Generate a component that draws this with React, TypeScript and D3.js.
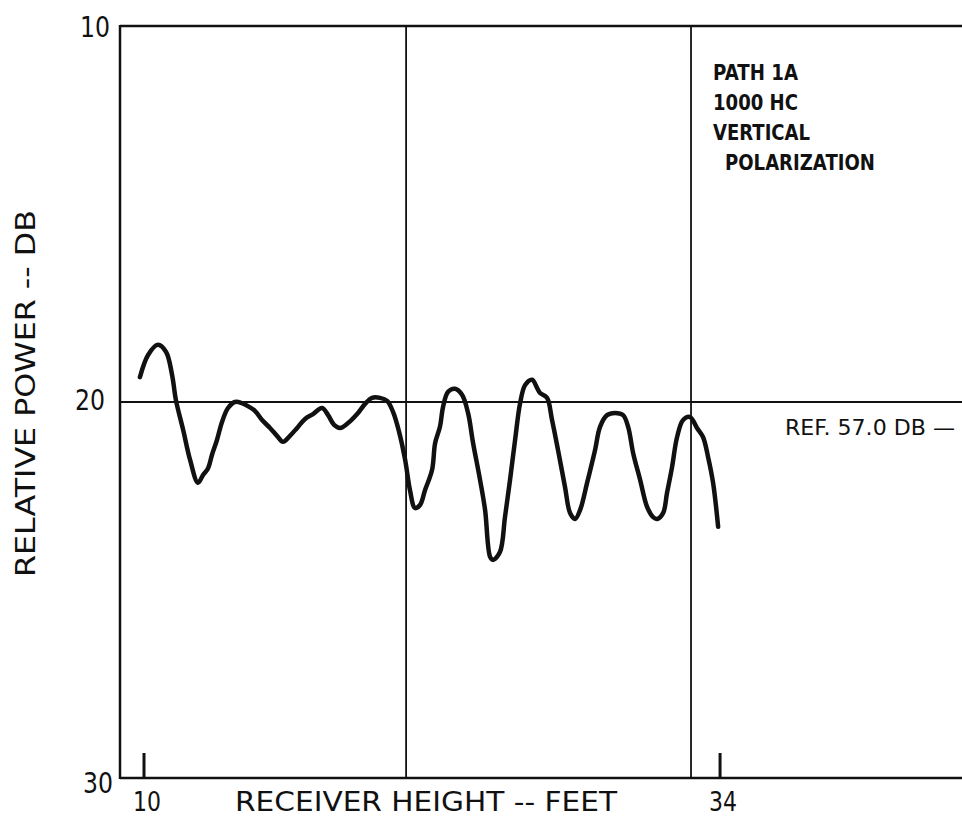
import React from "react";
import * as d3 from "d3";

const heightFt = [9.83,10.17,10.58,10.92,11.17,11.33,11.63,11.92,12.25,12.46,12.67,12.83,13.04,13.25,13.5,13.79,14.08,14.33,14.63,14.92,15.25,15.54,15.79,16.08,16.38,16.71,17.04,17.42,17.67,17.92,18.17,18.5,18.88,19.21,19.5,19.83,20.13,20.38,20.63,20.88,21.08,21.29,21.5,21.71,22.0,22.13,22.33,22.46,22.67,22.96,23.25,23.5,23.71,24.0,24.21,24.42,24.54,24.83,25.04,25.25,25.46,25.67,25.88,26.17,26.38,26.5,26.79,27.0,27.25,27.54,27.75,27.96,28.17,28.46,28.79,29.0,29.29,29.63,29.96,30.17,30.38,30.67,30.96,31.21,31.38,31.63,31.79,32.0,32.21,32.46,32.75,33.04,33.29,33.5,33.71,33.92];
const powerDb = [19.34,18.75,18.48,18.67,19.28,19.95,20.74,21.54,22.15,21.94,21.76,21.41,21.01,20.53,20.16,20.0,20.03,20.11,20.24,20.48,20.69,20.9,21.06,20.9,20.69,20.45,20.32,20.16,20.35,20.61,20.69,20.56,20.32,20.05,19.89,19.89,19.97,20.27,20.8,21.54,22.34,22.82,22.74,22.34,21.81,21.09,20.66,20.13,19.73,19.65,19.81,20.29,21.09,22.07,22.87,24.12,24.2,23.99,23.06,22.07,21.01,20.03,19.55,19.41,19.63,19.76,19.89,20.48,21.28,22.26,22.95,23.11,22.87,22.15,21.28,20.66,20.35,20.29,20.35,20.66,21.36,22.07,22.79,23.06,23.11,22.95,22.42,21.73,20.93,20.48,20.4,20.69,20.93,21.46,22.15,23.32];

const yTicks = [10, 20, 30];
const xTicks = [10, 34];
const xGrid = [20.92, 32.79];
const yGrid = [20];
const noteLines = ["PATH 1A", "1000 HC", "VERTICAL", " POLARIZATION"];
const refLabel = "REF. 57.0 DB \u2014";
const xTitle = "RECEIVER HEIGHT -- FEET";
const yTitle = "RELATIVE POWER -- DB";

export default function App() {
  const W = 962, H = 817;
  const x = d3.scaleLinear().domain([9, 44.08]).range([120, 962]);
  const y = d3.scaleLinear().domain([10, 30]).range([26, 778]);
  const pts: [number, number][] = heightFt.map((h, i) => [h, powerDb[i]]);
  const line = d3.line<[number, number]>()
    .x(d => x(d[0]))
    .y(d => y(d[1]))
    .curve(d3.curveCatmullRom.alpha(0.5));
  const font = "'DejaVu Sans', sans-serif";
  const x0 = x(9), x1 = x(44.08);
  const yLabelPos: Record<number, [number, number]> = { 10: [110, 37], 20: [105, 410], 30: [113, 793] };
  return (
    <svg width={W} height={H} style={{ position: "absolute", left: 0, top: 0, background: "#fff" }}>
      <rect x={0} y={0} width={W} height={H} fill="#fff" />
      {/* frame */}
      <line x1={x0} x2={x1} y1={y(10)} y2={y(10)} stroke="#111" strokeWidth={2.5} />
      <line x1={x0} x2={x1} y1={y(30)} y2={y(30)} stroke="#111" strokeWidth={2.5} />
      <line x1={x0} x2={x0} y1={y(10) - 1} y2={y(30) + 1} stroke="#111" strokeWidth={2.5} />
      {xGrid.map(g => (
        <line key={g} x1={x(g)} x2={x(g)} y1={y(10)} y2={y(30)} stroke="#111" strokeWidth={1.8} />
      ))}
      {yGrid.map(g => (
        <line key={g} x1={x0} x2={x1} y1={y(g)} y2={y(g)} stroke="#111" strokeWidth={1.8} />
      ))}
      {xTicks.map(t => (
        <line key={t} x1={x(t)} x2={x(t)} y1={y(30)} y2={y(30) - 25} stroke="#111" strokeWidth={3} />
      ))}
      {/* data */}
      <path d={line(pts) || ""} fill="none" stroke="#111" strokeWidth={4.5} strokeLinejoin="round" strokeLinecap="round" />
      {/* y tick labels */}
      {yTicks.map(t => (
        <text key={t} x={yLabelPos[t][0]} y={yLabelPos[t][1]} textAnchor="end" fontFamily={font} fontSize={29}
          textLength={30} lengthAdjust="spacingAndGlyphs" fill="#111">{t}</text>
      ))}
      {/* x tick labels */}
      {xTicks.map(t => (
        <text key={t} x={x(t) + 3} y={811} textAnchor="middle" fontFamily={font} fontSize={26}
          textLength={28} lengthAdjust="spacingAndGlyphs" fill="#111">{t}</text>
      ))}
      <text x={235} y={811} fontFamily={font} fontSize={27} textLength={382} lengthAdjust="spacingAndGlyphs" fill="#111">{xTitle}</text>
      <text transform="translate(35,577) rotate(-90)" x={0} y={0} fontFamily={font} fontSize={27}
        textLength={367} lengthAdjust="spacingAndGlyphs" fill="#111">{yTitle}</text>
      {noteLines.map((l, i) => (
        <text key={i} x={i === 3 ? 725 : 713} y={80 + i * 30} fontFamily={font} fontSize={21} fontWeight="bold"
          textLength={[85, 85, 97, 150][i]} lengthAdjust="spacingAndGlyphs" fill="#111">{l.trim()}</text>
      ))}
      <text x={785} y={435} fontFamily={font} fontSize={22} textLength={170} lengthAdjust="spacingAndGlyphs" fill="#111">{refLabel}</text>
    </svg>
  );
}
